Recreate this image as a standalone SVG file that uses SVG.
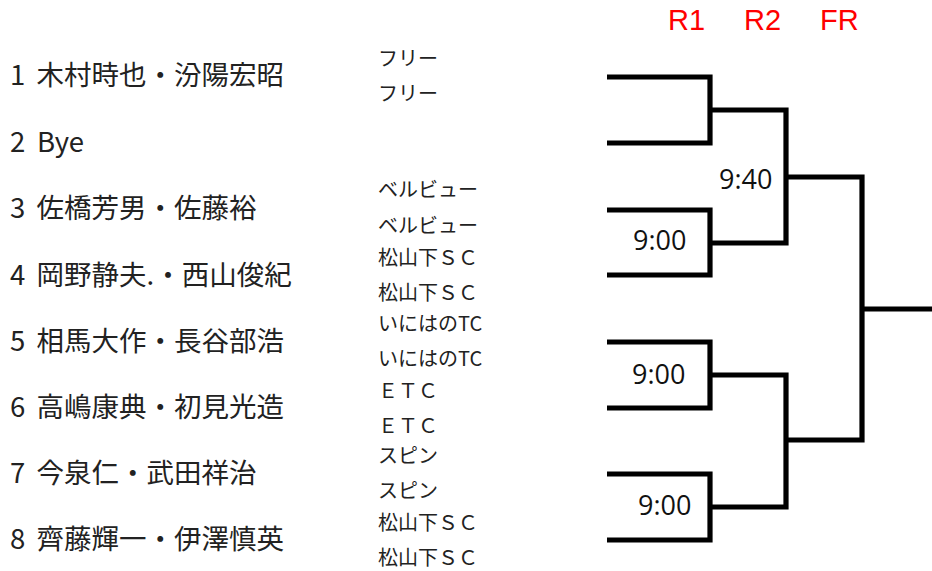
<svg xmlns="http://www.w3.org/2000/svg" width="932" height="571" viewBox="0 0 932 571">
<style>
.name{font-family:"Noto Sans CJK JP","Noto Sans",sans-serif;font-size:27.5px;fill:#222}
.club{font-family:"Noto Sans CJK JP","Noto Sans",sans-serif;font-size:20px;fill:#222}
.head{font-family:"Liberation Sans","Noto Sans CJK JP",sans-serif;font-size:29px;fill:#FF0000}
.time{font-family:"Open Sans","DejaVu Sans",sans-serif;font-size:27px;fill:#111}
.br{fill:none;stroke:#000;stroke-width:5.2;stroke-linejoin:miter;stroke-linecap:butt}
</style>
<rect width="932" height="571" fill="#fff"/>
<g id="headers">
<text class="head" x="668" y="29.5">R1</text>
<text class="head" x="744" y="29.5">R2</text>
<text class="head" x="820" y="29.5">FR</text>
</g>
<g id="player1"><text class="name" x="10" y="85">1<tspan x="36.5">木村時也・汾陽宏昭</tspan></text>
<text class="club" x="378" y="66">フリー</text><text class="club" x="378" y="101">フリー</text></g>
<g id="player2"><text class="name" x="10" y="151.5">2<tspan x="37">Bye</tspan></text></g>
<g id="player3"><text class="name" x="10" y="218">3<tspan x="36.5">佐橋芳男・佐藤裕</tspan></text>
<text class="club" x="378" y="197">ベルビュー</text><text class="club" x="378" y="233">ベルビュー</text></g>
<g id="player4"><text class="name" x="10" y="284.5">4<tspan x="36.5">岡野静夫.・西山俊紀</tspan></text>
<text class="club" x="378" y="265">松山下ＳＣ</text><text class="club" x="378" y="300">松山下ＳＣ</text></g>
<g id="player5"><text class="name" x="10" y="350.5">5<tspan x="36.5">相馬大作・長谷部浩</tspan></text>
<text class="club" x="378" y="331">いにはのTC</text><text class="club" x="378" y="366">いにはのTC</text></g>
<g id="player6"><text class="name" x="10" y="416.5">6<tspan x="36.5">高嶋康典・初見光造</tspan></text>
<text class="club" x="378" y="398">ＥＴＣ</text><text class="club" x="378" y="433">ＥＴＣ</text></g>
<g id="player7"><text class="name" x="10" y="482.5">7<tspan x="36.5">今泉仁・武田祥治</tspan></text>
<text class="club" x="378" y="463">スピン</text><text class="club" x="378" y="498">スピン</text></g>
<g id="player8"><text class="name" x="10" y="548.5">8<tspan x="36.5">齊藤輝一・伊澤慎英</tspan></text>
<text class="club" x="378" y="530">松山下ＳＣ</text><text class="club" x="378" y="565">松山下ＳＣ</text></g>
<g id="connectors">
<path class="br" d="M607,77 H710 V143 H607"/>
<path class="br" d="M607,210 H710 V275 H607"/>
<path class="br" d="M607,342 H710 V408 H607"/>
<path class="br" d="M607,474 H710 V540 H607"/>
<path class="br" d="M710,110 H786 V243 H710"/>
<path class="br" d="M710,375 H786 V507 H710"/>
<path class="br" d="M786,177 H862 V440 H786"/>
<path class="br" d="M862,309 H932"/>
</g>
<g id="times">
<text class="time" x="633" y="250">9:00</text>
<text class="time" x="719" y="189">9:40</text>
<text class="time" x="632" y="384">9:00</text>
<text class="time" x="638" y="515">9:00</text>
</g>
</svg>
